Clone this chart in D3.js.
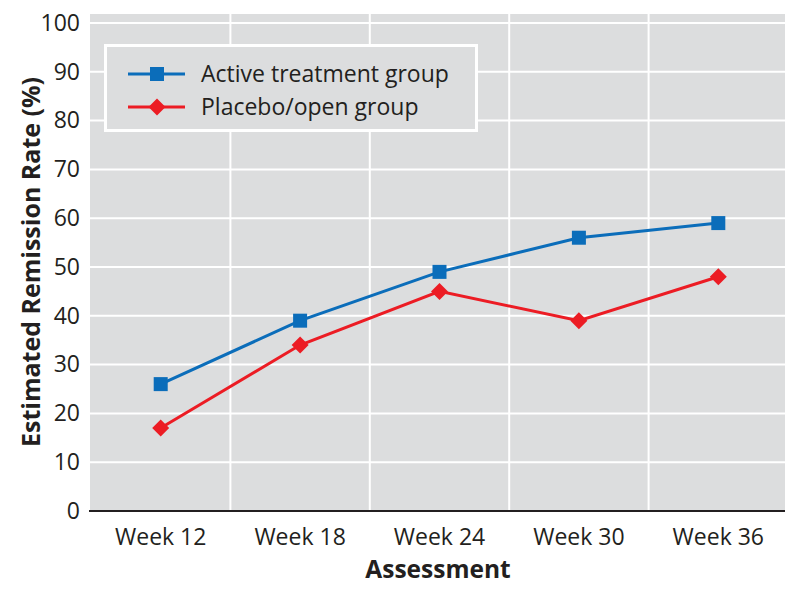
<!DOCTYPE html>
<html>
<head>
<meta charset="utf-8">
<script src="https://cdn.jsdelivr.net/npm/d3@7"></script>
<style>
  html, body { margin: 0; padding: 0; background: #ffffff; }
  svg { display: block; }
  text { font-family: "Open Sans", "Noto Sans", sans-serif; fill: #231f20; }
</style>
</head>
<body>
<svg id="chart" width="800" height="593"></svg>
<script>
// ---- data ----
const categories = ["Week 12", "Week 18", "Week 24", "Week 30", "Week 36"];
const activeValues = [26, 39, 49, 56, 59];
const placeboValues = [17, 34, 45, 39, 48];
const seriesNames = ["Active treatment group", "Placebo/open group"];
const yTicks = [0, 10, 20, 30, 40, 50, 60, 70, 80, 90, 100];
const xTitle = "Assessment";
const yTitle = "Estimated Remission Rate (%)";

// ---- layout ----
const svg = d3.select("#chart");
const plot = { left: 90, right: 785, top: 14, bottom: 511 };
const blue = "#0b6dba", red = "#ec1c24", bg = "#dcddde";

const x = d3.scaleBand().domain(categories).range([91, 788]);
const y = d3.scaleLinear().domain([0, 100]).range([511, 23]);

// background
svg.append("rect")
  .attr("x", plot.left).attr("y", plot.top)
  .attr("width", plot.right - plot.left).attr("height", plot.bottom - plot.top)
  .attr("fill", bg);

// horizontal grid
svg.append("g").selectAll("line").data(yTicks.filter(d => d > 0)).join("line")
  .attr("x1", plot.left).attr("x2", plot.right)
  .attr("y1", d => y(d)).attr("y2", d => y(d))
  .attr("stroke", "#ffffff").attr("stroke-width", 2);

// vertical grid at band boundaries
svg.append("g").selectAll("line").data(categories.slice(1)).join("line")
  .attr("x1", d => x(d)).attr("x2", d => x(d))
  .attr("y1", plot.top).attr("y2", plot.bottom)
  .attr("stroke", "#ffffff").attr("stroke-width", 2);

// y axis labels
const yAxis = d3.axisLeft(y).tickValues(yTicks).tickSize(0).tickPadding(10);
const gy = svg.append("g").attr("transform", `translate(${plot.left},0)`).call(yAxis);
gy.select(".domain").remove();
gy.selectAll("text").style("font-size", "23px").attr("fill", "#231f20");

// x axis
const xAxis = d3.axisBottom(x).tickSize(0).tickPadding(18);
const gx = svg.append("g").attr("transform", `translate(0,${plot.bottom})`).call(xAxis);
gx.select(".domain").remove();
gx.selectAll("text").style("font-size", "23px").attr("fill", "#231f20");
svg.append("line")
  .attr("x1", plot.left - 1).attr("x2", plot.right)
  .attr("y1", plot.bottom).attr("y2", plot.bottom)
  .attr("stroke", "#231f20").attr("stroke-width", 2);

// titles
svg.append("text")
  .attr("x", 438).attr("y", 578)
  .attr("text-anchor", "middle")
  .style("font-size", "24.5px").style("font-weight", "bold")
  .text(xTitle);
svg.append("text")
  .attr("transform", "translate(40,262) rotate(-90)")
  .attr("text-anchor", "middle")
  .style("font-size", "25px").style("font-weight", "bold")
  .text(yTitle);

// lines & markers
const cx = d => x(d) + x.bandwidth() / 2;
const line = d3.line().x(d => cx(d.cat)).y(d => y(d.v));
const series = [
  { name: seriesNames[0], color: blue, shape: "square",
    data: categories.map((c, i) => ({ cat: c, v: activeValues[i] })) },
  { name: seriesNames[1], color: red, shape: "diamond",
    data: categories.map((c, i) => ({ cat: c, v: placeboValues[i] })) }
];

function marker(g, shape, color) {
  if (shape === "square") {
    g.append("rect").attr("x", -7).attr("y", -7).attr("width", 14).attr("height", 14).attr("fill", color);
  } else {
    g.append("path").attr("d", "M0,-8.5L8.5,0L0,8.5L-8.5,0Z").attr("fill", color);
  }
}

series.forEach(s => {
  svg.append("path").datum(s.data)
    .attr("d", line).attr("fill", "none")
    .attr("stroke", s.color).attr("stroke-width", 3);
  svg.append("g").selectAll("g").data(s.data).join("g")
    .attr("transform", d => `translate(${cx(d.cat)},${y(d.v)})`)
    .each(function () { marker(d3.select(this), s.shape, s.color); });
});

// legend
const lg = svg.append("g");
lg.append("rect").attr("x", 105.5).attr("y", 45.5).attr("width", 371).attr("height", 85)
  .attr("fill", bg).attr("stroke", "#ffffff").attr("stroke-width", 3);
series.forEach((s, i) => {
  const ly = 74 + i * 33;
  lg.append("line").attr("x1", 128).attr("x2", 185).attr("y1", ly).attr("y2", ly)
    .attr("stroke", s.color).attr("stroke-width", 3);
  const m = lg.append("g").attr("transform", `translate(157,${ly})`);
  marker(m, s.shape, s.color);
  lg.append("text").attr("x", 201).attr("y", ly).attr("dy", "0.35em")
    .style("font-size", "23px").text(s.name);
});
</script>
</body>
</html>
